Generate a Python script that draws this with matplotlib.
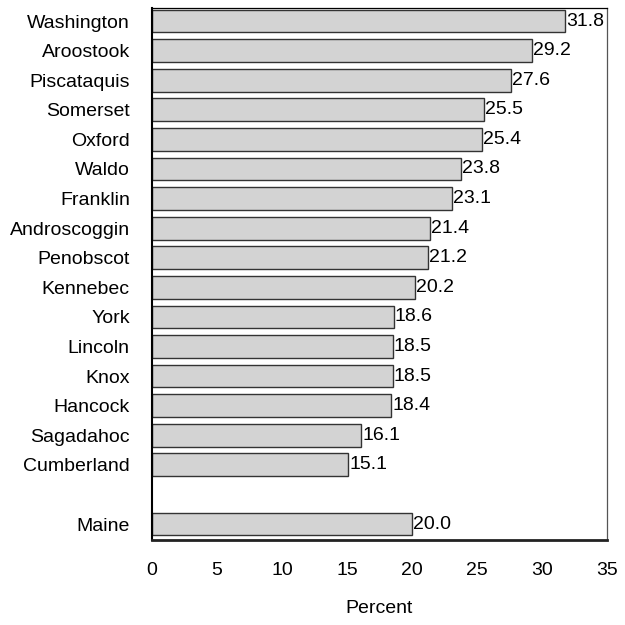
import matplotlib
matplotlib.use("Agg")
import matplotlib.pyplot as plt

counties = ["Washington", "Aroostook", "Piscataquis", "Somerset", "Oxford", "Waldo",
            "Franklin", "Androscoggin", "Penobscot", "Kennebec", "York", "Lincoln",
            "Knox", "Hancock", "Sagadahoc", "Cumberland"]
values = [31.8, 29.2, 27.6, 25.5, 25.4, 23.8, 23.1, 21.4, 21.2, 20.2, 18.6, 18.5,
          18.5, 18.4, 16.1, 15.1]
state_label = "Maine"
state_value = 20.0
xticks = [0, 5, 10, 15, 20, 25, 30, 35]

plt.rcParams['font.family'] = ['Liberation Sans', 'DejaVu Sans']
FS = 14
fig = plt.figure(figsize=(6.25, 6.25), dpi=100)
ax = fig.add_axes([152/625, 1-540/625, 455/625, 532/625])

labels = counties + [state_label]
vals = values + [state_value]
pos = list(range(len(counties))) + [len(counties) + 1]

ax.barh(pos, vals, height=0.77, color="#d3d3d3", edgecolor="#333333", linewidth=1.0)
for p, v in zip(pos, vals):
    ax.text(v + 0.08, p, f"{v:.1f}", va="center", ha="left", fontsize=FS)

ax.set_yticks(pos)
ax.set_yticklabels(labels, fontsize=FS)
ax.set_ylim(len(counties) + 1 + 0.54, -0.44)
ax.set_xlim(0, 35)
ax.set_xticks(xticks)
ax.set_xticklabels([str(t) for t in xticks], fontsize=FS)
ax.tick_params(axis="both", length=0)
ax.tick_params(axis="x", pad=16)
ax.tick_params(axis="y", pad=16)
ax.set_xlabel("Percent", fontsize=FS, labelpad=15)

ax.spines["left"].set_linewidth(1.5)
ax.spines["left"].set_color("black")
ax.spines["bottom"].set_linewidth(2.0)
ax.spines["bottom"].set_color("#222222")
ax.spines["top"].set_linewidth(0.9)
ax.spines["right"].set_linewidth(0.9)
ax.spines["right"].set_color("#555555")

fig.savefig("out.png", dpi=100)
